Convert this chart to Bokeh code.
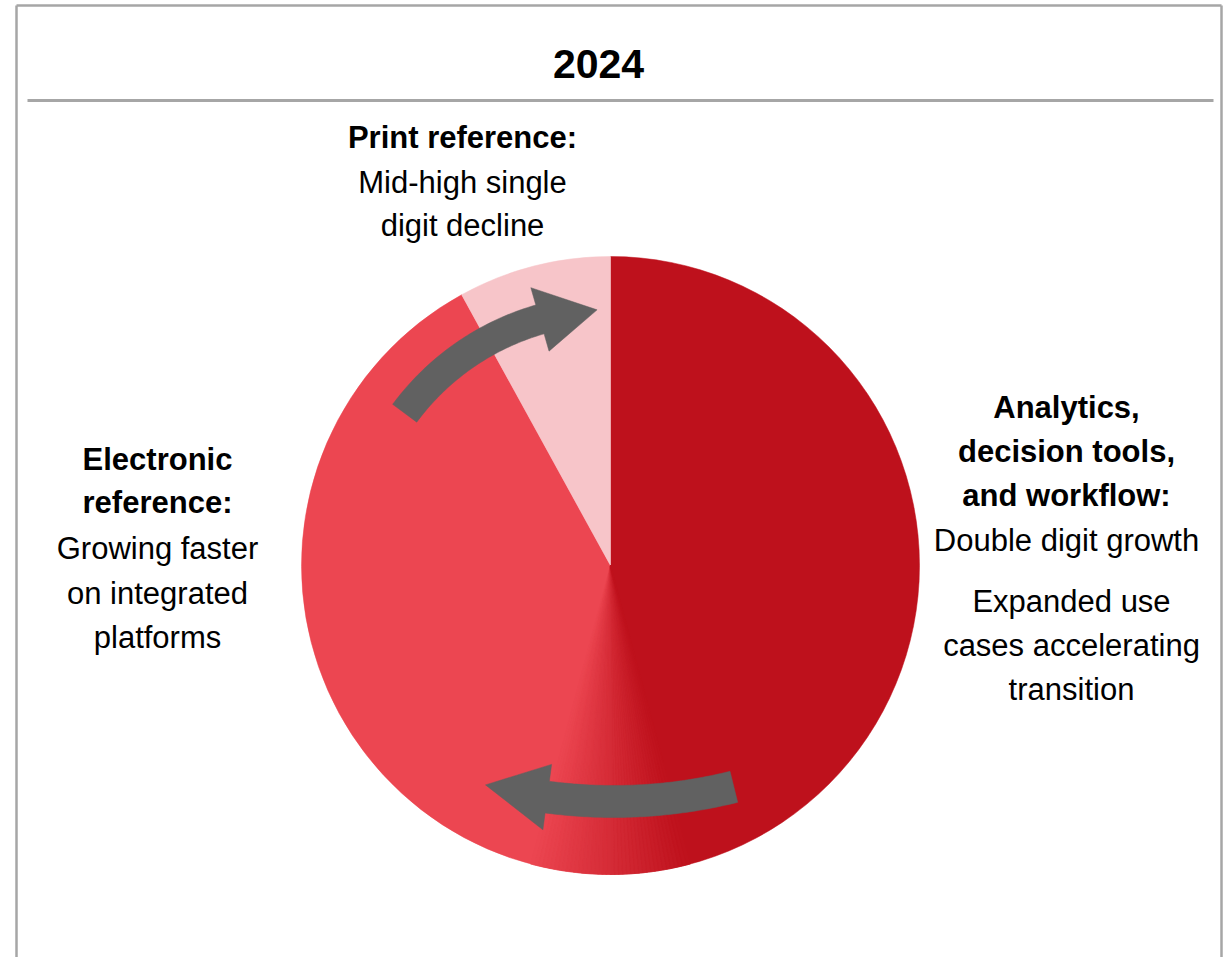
import numpy as np
from bokeh.plotting import figure
from bokeh.models import Range1d, ColumnDataSource
from bokeh.core.properties import value
from bokeh.embed import file_html
from bokeh.resources import INLINE

# ---------------- data ----------------
chart_title = "2024"
segments = ["Analytics, decision tools, and workflow", "Electronic reference", "Print reference"]
shares = [50, 42, 8]
seg_colors = ["#BE111C", "#EC4651", "#F7C5C9"]

print_bold = ["Print reference:"]
print_text = ["Mid-high single", "digit decline"]
elec_bold = ["Electronic", "reference:"]
elec_text = ["Growing faster", "on integrated", "platforms"]
anal_bold = ["Analytics,", "decision tools,", "and workflow:"]
anal_text = ["Double digit growth"]
anal_text2 = ["Expanded use", "cases accelerating", "transition"]

# ---------------- layout helpers ----------------
W, H = 1227, 957
def Y(img_y):
    return H - img_y

FONT = "Liberation Sans"
GRAY = "#A6A6A6"

p = figure(width=W, height=H, x_range=Range1d(0, W), y_range=Range1d(0, H),
           output_backend="svg", toolbar_location=None, min_border=0,
           outline_line_color=None, background_fill_color="white")
p.axis.visible = False
p.grid.visible = False

# frame + title rule
p.line([16, 16], [Y(960), Y(5)], line_color=GRAY, line_width=2.5)
p.line([16, 1221], [Y(5), Y(5)], line_color=GRAY, line_width=2.5)
p.line([1221, 1221], [Y(5), Y(960)], line_color=GRAY, line_width=2.5)
p.line([27, 1213], [Y(100), Y(100)], line_color=GRAY, line_width=3)

p.text(x=[598], y=[Y(63)], text=[chart_title], text_font=value(FONT), text_font_style="bold",
       text_font_size="41px", text_align="center", text_baseline="middle", text_color="black")

# ---------------- pie ----------------
cx, cy, R = 610, Y(565), 309
total = float(sum(shares))
bounds = [90 - 360 * sum(shares[:i]) / total for i in range(len(shares) + 1)]
src = ColumnDataSource(dict(
    start=[np.radians(bounds[i + 1]) for i in range(len(shares))],
    end=[np.radians(bounds[i]) for i in range(len(shares))],
    color=seg_colors, name=segments))
p.wedge(x=cx, y=cy, radius=R, start_angle="start", end_angle="end",
        fill_color="color", line_color="color", line_width=0.5, source=src)

# soft shading across the analytics / electronic boundary at the bottom
b = bounds[1]
n = 40
edges = np.linspace(b - 15, b + 15, n + 1)
c0 = np.array([0xEC, 0x46, 0x51], float)
c1 = np.array([0xBE, 0x11, 0x1C], float)
gcols = []
for i in range(n):
    t = (i + 0.5) / n
    c = c0 + (c1 - c0) * t
    gcols.append("#%02x%02x%02x" % tuple(int(round(v)) for v in c))
p.wedge(x=cx, y=cy, radius=R, start_angle=np.radians(edges[:-1]), end_angle=np.radians(edges[1:]),
        fill_color=gcols, line_color=gcols, line_width=0.6)

# ---------------- curved arrows ----------------
def arc_arrow(ax, ay, r, a_tail, a_head, a_tip, shaft_w, head_w, n=60):
    t = np.radians(np.linspace(a_tail, a_head, n))
    ro, ri = r + shaft_w / 2, r - shaft_w / 2
    xs = list(ax + ro * np.cos(t))
    ys = list(ay + ro * np.sin(t))
    ah, at = np.radians(a_head), np.radians(a_tip)
    xs += [ax + (r + head_w / 2) * np.cos(ah), ax + r * np.cos(at), ax + (r - head_w / 2) * np.cos(ah)]
    ys += [ay + (r + head_w / 2) * np.sin(ah), ay + r * np.sin(at), ay + (r - head_w / 2) * np.sin(ah)]
    xs += list(ax + ri * np.cos(t[::-1]))
    ys += list(ay + ri * np.sin(t[::-1]))
    return xs, ys

ARROW = "#616161"
x1, y1 = arc_arrow(610, Y(565), 256, 143.5, 106, 93, 30, 66)
x2, y2 = arc_arrow(613, Y(300), 501, -76.1, -97.6, -104.8, 32, 66)
p.patches([x1, x2], [y1, y2], fill_color=ARROW, line_color=ARROW, line_width=0.5)

# ---------------- labels ----------------
def block(x, ys, lines, bold):
    p.text(x=[x] * len(lines), y=[Y(v) for v in ys], text=lines, text_font=value(FONT),
           text_font_style="bold" if bold else "normal", text_font_size="31px",
           text_align="center", text_baseline="middle", text_color="black")

block(462, [137], print_bold, True)
block(462, [182, 225], print_text, False)
block(157, [459, 502], elec_bold, True)
block(157, [548, 593, 637], elec_text, False)
block(1066, [407, 451, 495], anal_bold, True)
block(1066, [540], anal_text, False)
block(1071, [601, 645, 689], anal_text2, False)

open("out.html", "w").write(file_html(p, INLINE))
